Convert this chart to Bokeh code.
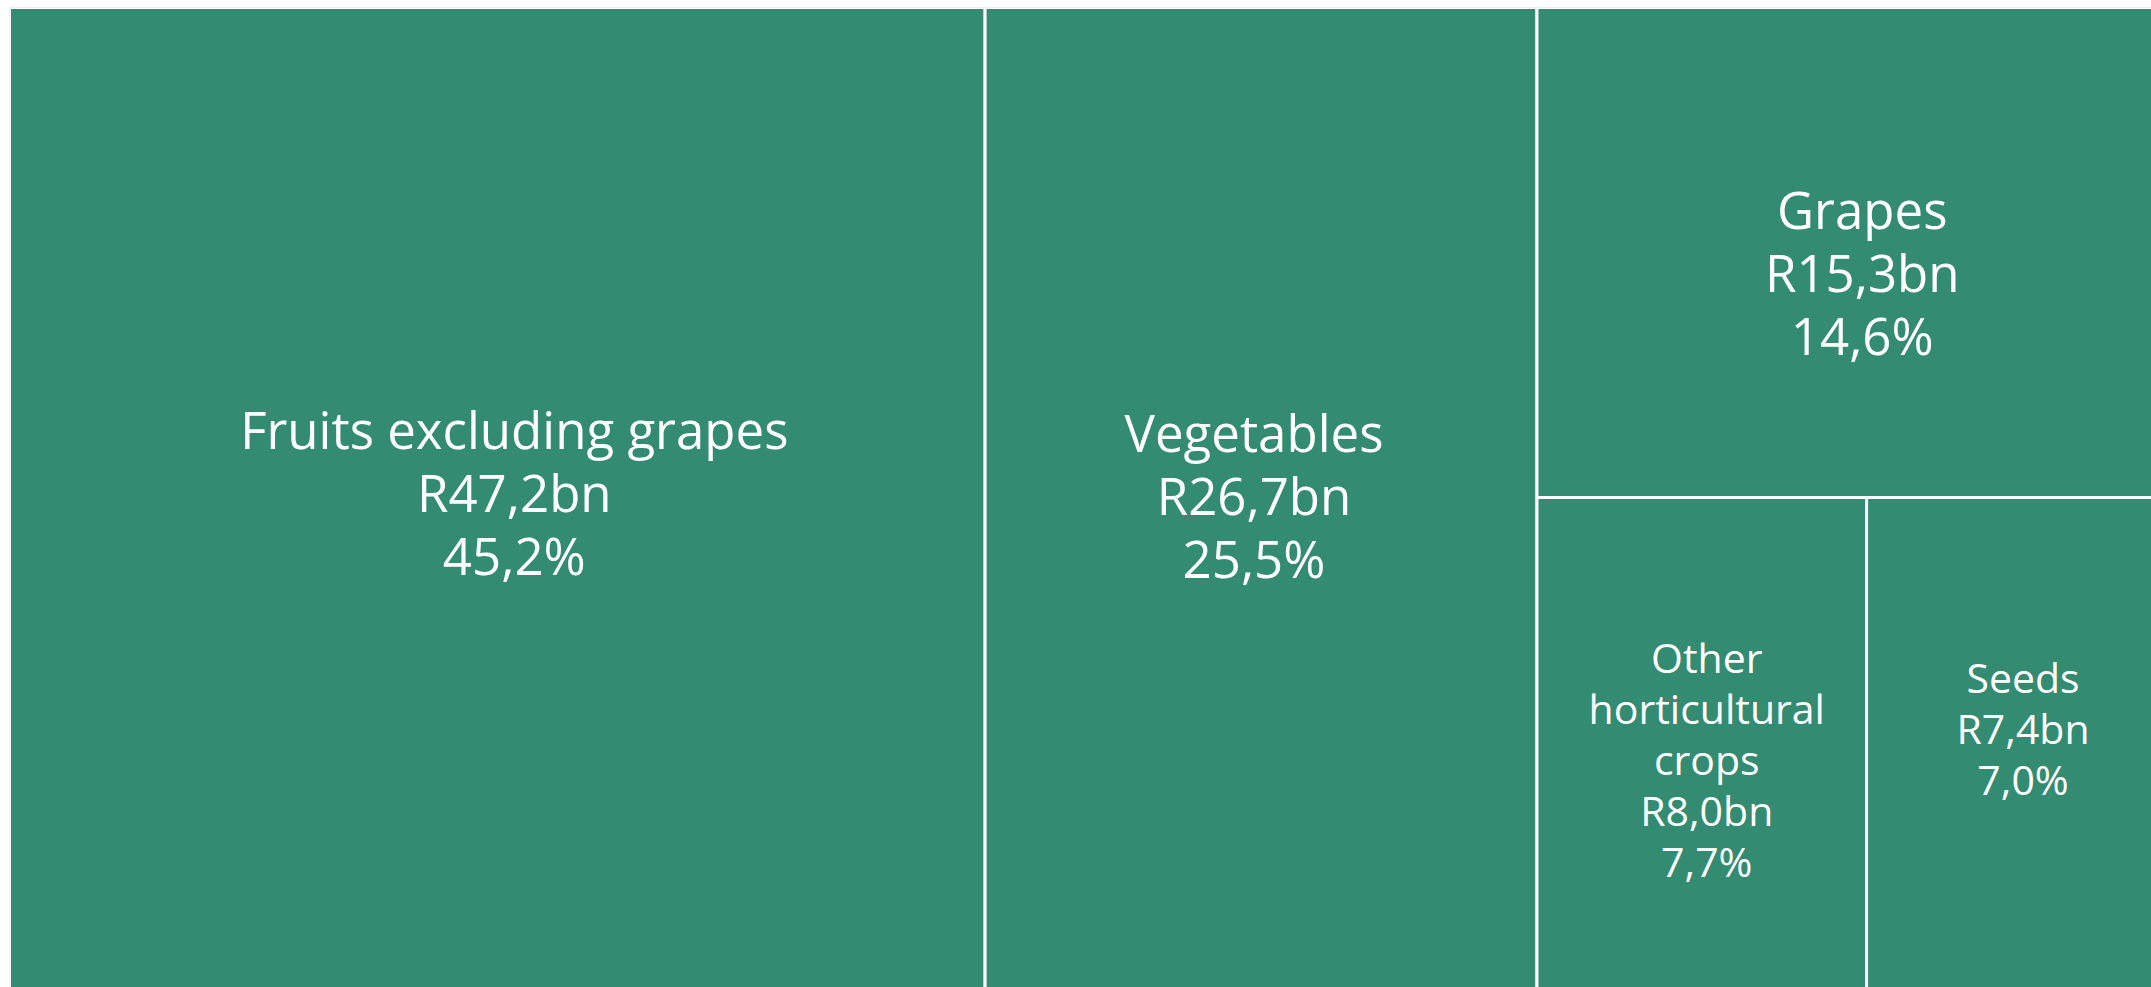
from bokeh.plotting import figure
from bokeh.models import ColumnDataSource, Range1d
from bokeh.core.properties import value
from bokeh.embed import file_html
from bokeh.resources import INLINE

# ---- data ----
categories = ["Fruits excluding grapes", "Vegetables", "Grapes",
              "Other horticultural crops", "Seeds"]
values_bn = [47.2, 26.7, 15.3, 8.0, 7.4]
shares = ["45,2%", "25,5%", "14,6%", "7,7%", "7,0%"]
value_labels = ["R47,2bn", "R26,7bn", "R15,3bn", "R8,0bn", "R7,4bn"]

# ---- layout / style ----
FIG_W, FIG_H = 2151, 987
BORDER_L, BORDER_T = 9, 7
VIS_W = FIG_W - BORDER_L     # visible frame width (px units)
VIS_H = FIG_H - BORDER_T
TREE_W, TREE_H = 2162, 983   # treemap runs past the right/bottom edge, as in the reference
COLOR = "#338B71"
label_dx = [17, -7, 8, 5, 4]       # per-label horizontal nudge (px)
label_dy = [-7, -4, 20, 15, -16]   # per-label vertical nudge (px)


def worst(row, side):
    s = sum(row)
    return max(max(side * side * r / (s * s), s * s / (side * side * r)) for r in row)


def squarify(vals, x, y, w, h):
    total = sum(vals)
    areas = [v / total * w * h for v in vals]
    rects = []
    i = 0
    while i < len(areas):
        side = min(w, h)
        row = [areas[i]]
        j = i + 1
        while j < len(areas) and worst(row + [areas[j]], side) <= worst(row, side):
            row.append(areas[j])
            j += 1
        s = sum(row)
        if w >= h:  # column on the left
            cw = s / h
            cy = y
            for a in row:
                rh = a / cw
                rects.append((x, x + cw, cy, cy + rh))
                cy += rh
            x += cw
            w -= cw
        else:  # row on top
            rh = s / w
            cx = x
            for a in row:
                cw = a / rh
                rects.append((cx, cx + cw, y, y + rh))
                cx += cw
            y += rh
            h -= rh
        i = j
    return rects


rects = squarify(values_bn, 0, 0, TREE_W, TREE_H)
left = [r[0] for r in rects]
right = [r[1] for r in rects]
top = [r[2] for r in rects]
bottom = [r[3] for r in rects]

p = figure(width=FIG_W, height=FIG_H, output_backend="svg", toolbar_location=None,
           x_range=Range1d(0, VIS_W), y_range=Range1d(VIS_H, 0),
           x_axis_type=None, y_axis_type=None,
           min_border_left=BORDER_L, min_border_right=0,
           min_border_top=BORDER_T, min_border_bottom=0)
p.grid.visible = False
p.outline_line_color = None
p.background_fill_color = "white"
p.border_fill_color = "white"

p.quad(left=left, right=right, top=top, bottom=bottom,
       fill_color=COLOR, line_color="white", line_width=3)

# ---- labels ----
def wrap(text, maxw, fs):
    words = text.split()
    lines, cur = [], ""
    for wd in words:
        cand = (cur + " " + wd).strip()
        if len(cand) * 0.5 * fs > maxw and cur:
            lines.append(cur)
            cur = wd
        else:
            cur = cand
    lines.append(cur)
    return lines


tx, ty, tt, tfs = [], [], [], []
for i, name in enumerate(categories):
    l, r, t, b = rects[i]
    cx = (l + r) / 2 + label_dx[i]
    cy = (t + b) / 2 + label_dy[i]
    w = r - l
    fs = 51 if w > 500 else 41
    lh = 63 if w > 500 else 51
    lines = wrap(name, w * 0.9, fs) + [value_labels[i], shares[i]]
    n = len(lines)
    for k, ln in enumerate(lines):
        tx.append(cx)
        ty.append(cy + (k - (n - 1) / 2) * lh)
        tt.append(ln)
        tfs.append(f"{fs}px")

src = ColumnDataSource(dict(x=tx, y=ty, text=tt, fs=tfs))
p.text(x="x", y="y", text="text", source=src, text_color="white",
       text_font=value("Open Sans"), text_font_size="fs",
       text_align="center", text_baseline="middle")

open("out.html", "w").write(file_html(p, INLINE))
